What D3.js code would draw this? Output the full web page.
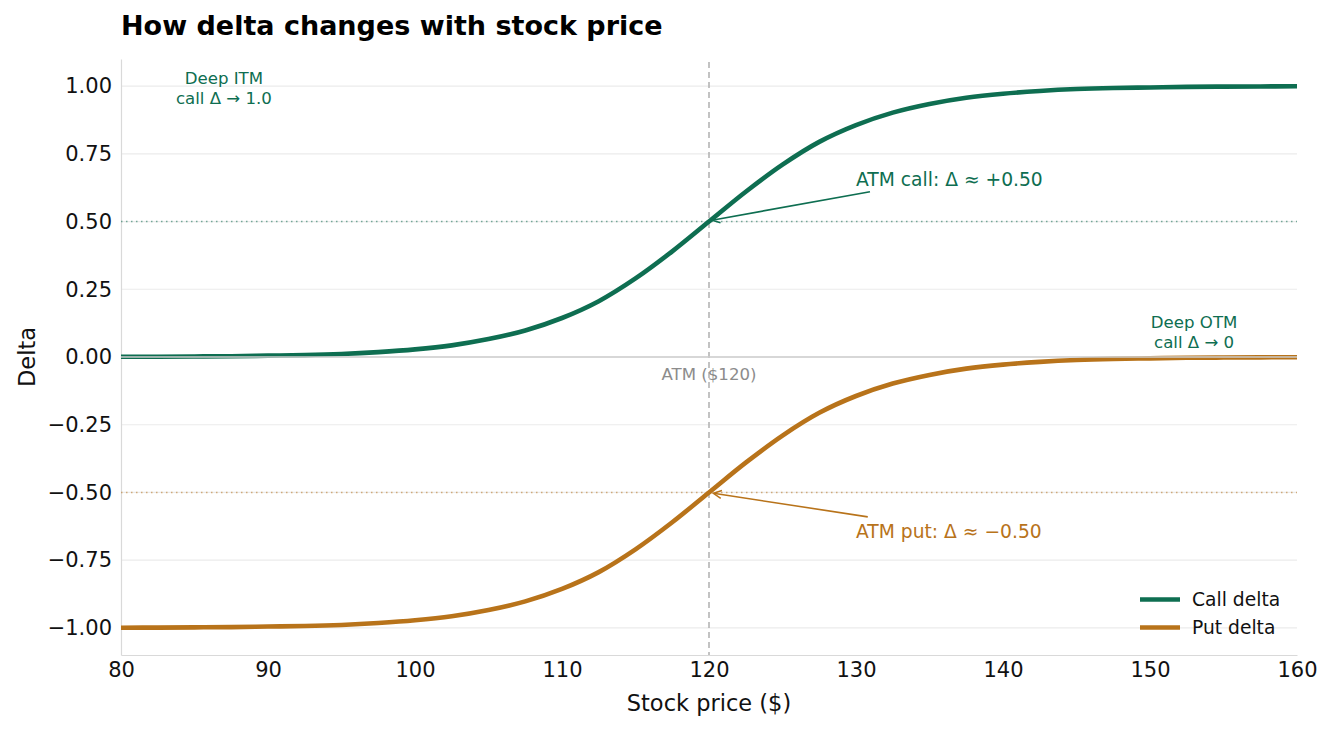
<!DOCTYPE html>
<html>
<head>
<meta charset="utf-8">
<script src="https://cdn.jsdelivr.net/npm/d3@7"></script>
<style>
  body { margin: 0; background: #fff; }
  svg text { font-family: "DejaVu Sans", sans-serif; }
</style>
</head>
<body>
<svg id="chart" width="1332" height="729"></svg>
<script>
/////// data ///////

var price = [80, 82.5, 85, 87.5, 90, 92.5, 95, 97.5, 100, 102.5, 105, 107.5, 110, 112.5, 115, 117.5, 120,
             122.5, 125, 127.5, 130, 132.5, 135, 137.5, 140, 142.5, 145, 147.5, 150, 152.5, 155, 157.5, 160];
var callDelta = [0.0008, 0.0012, 0.002, 0.003, 0.005, 0.007, 0.011, 0.018, 0.028, 0.043, 0.066, 0.098,
                 0.144, 0.206, 0.29, 0.39, 0.5, 0.61, 0.71, 0.794, 0.856, 0.902, 0.934, 0.957, 0.972,
                 0.982, 0.989, 0.993, 0.995, 0.997, 0.998, 0.9987, 0.9992];
var putDelta = [-0.9992, -0.9988, -0.998, -0.997, -0.995, -0.993, -0.989, -0.982, -0.972, -0.957, -0.934, -0.902,
                -0.856, -0.794, -0.71, -0.61, -0.5, -0.39, -0.29, -0.206, -0.144, -0.098, -0.066, -0.043, -0.028,
                -0.018, -0.011, -0.007, -0.005, -0.003, -0.002, -0.0013, -0.0008];
var xTicks = [80, 90, 100, 110, 120, 130, 140, 150, 160];
var yTicks = [-1, -0.75, -0.5, -0.25, 0, 0.25, 0.5, 0.75, 1];
var strike = 120;

var green = "#0e6e51", orange = "#b8731a";

/////// layout ///////

var svg = d3.select("#chart"),
margin = {top: 59, right: 35, bottom: 74, left: 121},
width = +svg.attr("width") - margin.left - margin.right,
height = +svg.attr("height") - margin.top - margin.bottom;

var x = d3.scaleLinear().domain([80, 160]).range([0, width]),
y = d3.scaleLinear().domain([-1.1, 1.1]).range([height, 0]);

var g = svg.append("g")
.attr("transform", "translate(" + margin.left + "," + margin.top + ")");

// grid
g.selectAll(".grid").data(yTicks).enter().append("line")
.attr("x1", 0).attr("x2", width)
.attr("y1", function(d) { return y(d); })
.attr("y2", function(d) { return y(d); })
.attr("stroke", "#ebebeb").attr("stroke-width", 1.2);

// axes (no tick marks, light spines)
var xAxis = d3.axisBottom(x).tickValues(xTicks).tickSize(0).tickPadding(7),
yAxis = d3.axisLeft(y).tickValues(yTicks).tickSize(0).tickPadding(9)
.tickFormat(function(d) { return d3.format(".2f")(d).replace("-", "\u2212"); });

var gx = g.append("g").attr("transform", "translate(0," + height + ")").call(xAxis);
var gy = g.append("g").call(yAxis);
[gx, gy].forEach(function(a) {
    a.select(".domain").attr("stroke", "#d9d9d9").attr("stroke-width", 1.2);
    a.selectAll("text").attr("font-size", "21px").attr("fill", "#111");
});

// reference lines
g.append("line")
.attr("x1", 0).attr("x2", width).attr("y1", y(0.5)).attr("y2", y(0.5))
.attr("stroke", green).attr("stroke-opacity", 0.55).attr("stroke-width", 1.4)
.attr("stroke-dasharray", "1.5,3.5");
g.append("line")
.attr("x1", 0).attr("x2", width).attr("y1", y(-0.5)).attr("y2", y(-0.5))
.attr("stroke", orange).attr("stroke-opacity", 0.55).attr("stroke-width", 1.4)
.attr("stroke-dasharray", "1.5,3.5");
g.append("line")
.attr("x1", x(strike)).attr("x2", x(strike)).attr("y1", 3).attr("y2", height)
.attr("stroke", "#b5b5b5").attr("stroke-width", 1.6)
.attr("stroke-dasharray", "6,4");

// curves
var line = d3.line()
.curve(d3.curveCatmullRom)
.x(function(d) { return x(d[0]); })
.y(function(d) { return y(d[1]); });

g.append("path")
.datum(d3.zip(price, callDelta))
.attr("fill", "none").attr("stroke", green).attr("stroke-width", 4.6)
.attr("d", line);
g.append("path")
.datum(d3.zip(price, putDelta))
.attr("fill", "none").attr("stroke", orange).attr("stroke-width", 4.6)
.attr("d", line);

// zero line on top
g.append("line")
.attr("x1", 0).attr("x2", width).attr("y1", y(0)).attr("y2", y(0))
.attr("stroke", "#cccccc").attr("stroke-width", 1.4);

/////// annotations ///////

var defs = svg.append("defs");
[["arrG", green], ["arrO", orange]].forEach(function(m) {
    defs.append("marker")
    .attr("id", m[0]).attr("viewBox", "0 0 10 10")
    .attr("refX", 9).attr("refY", 5)
    .attr("markerWidth", 10).attr("markerHeight", 10)
    .attr("markerUnits", "userSpaceOnUse")
    .attr("orient", "auto")
    .append("path").attr("d", "M1,1 L9,5 L1,9")
    .attr("fill", "none").attr("stroke", m[1]).attr("stroke-width", 1.5);
});

g.append("line")
.attr("x1", x(130.95)).attr("y1", y(0.61))
.attr("x2", x(120.2)).attr("y2", y(0.505))
.attr("stroke", green).attr("stroke-width", 1.6).attr("marker-end", "url(#arrG)");
g.append("text")
.attr("x", x(130)).attr("y", y(0.655)).attr("dy", "0.35em")
.attr("font-size", "18.7px").attr("fill", green)
.text("ATM call: \u0394 \u2248 +0.50");

g.append("line")
.attr("x1", x(130.8)).attr("y1", y(-0.59))
.attr("x2", x(120.3)).attr("y2", y(-0.503))
.attr("stroke", orange).attr("stroke-width", 1.6).attr("marker-end", "url(#arrO)");
g.append("text")
.attr("x", x(130)).attr("y", y(-0.645)).attr("dy", "0.35em")
.attr("font-size", "18.7px").attr("fill", orange)
.text("ATM put: \u0394 \u2248 \u22120.50");

function twoLines(px, py, l1, l2) {
    var t = g.append("text").attr("text-anchor", "middle")
    .attr("font-size", "16.6px").attr("fill", green);
    t.append("tspan").attr("x", x(px)).attr("y", y(py)).attr("dy", "0.35em").text(l1);
    t.append("tspan").attr("x", x(px)).attr("dy", "1.22em").text(l2);
}
twoLines(87, 1.03, "Deep ITM", "call \u0394 \u2192 1.0");
twoLines(153, 0.13, "Deep OTM", "call \u0394 \u2192 0");

g.append("text")
.attr("x", x(strike)).attr("y", y(-0.064)).attr("dy", "0.35em")
.attr("text-anchor", "middle").attr("font-size", "16.6px").attr("fill", "#8c8c8c")
.text("ATM ($120)");

/////// legend ///////

var legend = g.append("g").attr("transform", "translate(" + (width - 157) + "," + (y(-0.895)) + ")");
[["Call delta", green], ["Put delta", orange]].forEach(function(d, i) {
    legend.append("line")
    .attr("x1", 0).attr("x2", 40).attr("y1", i * 28).attr("y2", i * 28)
    .attr("stroke", d[1]).attr("stroke-width", 4.6);
    legend.append("text")
    .attr("x", 52).attr("y", i * 28).attr("dy", "0.35em")
    .attr("font-size", "18.7px").attr("fill", "#111").text(d[0]);
});

/////// titles ///////

svg.append("text")
.attr("x", margin.left).attr("y", 35)
.attr("font-size", "27px").attr("font-weight", "bold").attr("fill", "#000")
.text("How delta changes with stock price");

svg.append("text")
.attr("x", margin.left + width / 2).attr("y", 711)
.attr("text-anchor", "middle").attr("font-size", "22.5px").attr("fill", "#111")
.text("Stock price ($)");

svg.append("text")
.attr("transform", "translate(35," + (margin.top + y(0)) + ") rotate(-90)")
.attr("text-anchor", "middle").attr("font-size", "22.5px").attr("fill", "#111")
.text("Delta");
</script>
</body>
</html>
